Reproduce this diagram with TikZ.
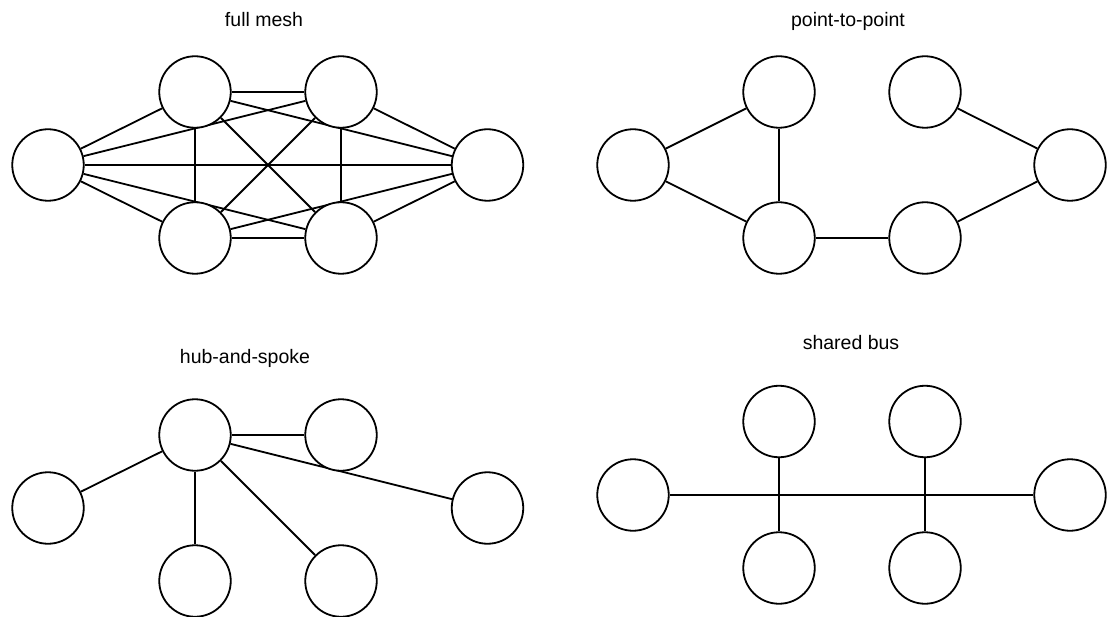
\documentclass[tikz,border=0pt]{standalone}
\usepackage{fontspec}
\setmainfont{Liberation Sans}
\usetikzlibrary{backgrounds}

\tikzset{
  host/.style={circle,draw,fill=white,line width=1.8pt,minimum size=71.5pt,inner sep=0pt},
  link/.style={line width=1.8pt},
  caption/.style={font=\fontsize{19.5}{22}\selectfont,anchor=base}
}

\begin{document}
\begin{tikzpicture}[x=1pt,y=-1pt]
	\useasboundingbox (0,0) rectangle (1107,617);
	% full mesh
	\node[caption] (tmesh) at (264,27) {full mesh};
	\node[host] (m1) at (48,165) {};
	\node[host] (m2) at (195,92) {};
	\node[host] (m3) at (341,92) {};
	\node[host] (m4) at (487.5,165) {};
	\node[host] (m5) at (195,238) {};
	\node[host] (m6) at (341,238) {};
	% point-to-point
	\node[caption] (tptp) at (848,27) {point-to-point};
	\node[host] (p1) at (633,165) {};
	\node[host] (p2) at (779,92) {};
	\node[host] (p3) at (925,92) {};
	\node[host] (p4) at (1070,165) {};
	\node[host] (p5) at (779,238) {};
	\node[host] (p6) at (925,238) {};
	% hub-and-spoke
	\node[caption] (thub) at (245,363) {hub-and-spoke};
	\node[host] (h1) at (195,435) {};
	\node[host] (h2) at (341,435) {};
	\node[host] (h3) at (48,508) {};
	\node[host] (h4) at (487.5,508) {};
	\node[host] (h5) at (195,581) {};
	\node[host] (h6) at (341,581) {};
	% shared bus
	\node[caption] (tbus) at (851,349) {shared bus};
	\node[host] (b1) at (633,495) {};
	\node[host] (b2) at (779,421.5) {};
	\node[host] (b3) at (925,421.5) {};
	\node[host] (b4) at (1070,495) {};
	\node[host] (b5) at (779,568) {};
	\node[host] (b6) at (925,568) {};
	\begin{scope}[on background layer]
		\foreach \A/\B in {1/2,1/3,1/4,1/5,1/6,2/3,2/4,2/5,2/6,3/4,3/5,3/6,4/5,4/6,5/6}
			\draw[link] (m\A) -- (m\B);
		\foreach \A/\B in {1/2,1/5,2/5,5/6,6/4,3/4}
			\draw[link] (p\A) -- (p\B);
		\foreach \B in {2,3,4,5,6}
			\draw[link] (h1) -- (h\B);
		\draw[link] (b1) -- (b4);
		\draw[link] (b2) -- (b5);
		\draw[link] (b3) -- (b6);
	\end{scope}
\end{tikzpicture}
\end{document}
